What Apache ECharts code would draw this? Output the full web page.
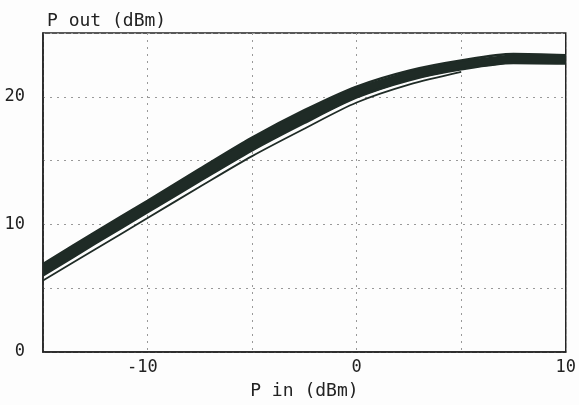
<!DOCTYPE html>
<html>
<head>
<meta charset="utf-8">
<script src="https://cdn.jsdelivr.net/npm/echarts@6/dist/echarts.min.js"></script>
<style>
  html, body { margin: 0; padding: 0; background: #fdfdfd; }
  #chart { width: 579px; height: 405px; }
</style>
</head>
<body>
<div id="chart"></div>
<script>
// P in (dBm) sample points
var pin = [-15, -12.5, -10, -7.5, -5, -2.5, 0, 2.5, 5, 7.5, 10];
// upper and lower edge of the dark band of curves (P out, dBm)
var bandTop = [6.9, 9.4, 11.85, 14.35, 16.8, 18.95, 20.8, 22.05, 22.85, 23.35, 23.25];
var bandBottom = [6.0, 8.5, 10.95, 13.4, 15.8, 17.95, 19.95, 21.3, 22.15, 22.65, 22.6];
// separate thin curve below the band
var thinPin = [-15, -12.5, -10, -7.5, -5, -2.5, 0, 2.5, 5];
var thinOut = [5.6, 8.05, 10.5, 12.95, 15.35, 17.5, 19.55, 20.95, 21.95];

var xTicks = [-10, 0, 10];
var yTicks = [0, 10, 20];

var ink = '#1f2b26';
var font = 'DejaVu Sans Mono';

var myChart = echarts.init(document.getElementById('chart'));

var topData = [], bottomData = [], thinData = [];
for (var i = 0; i < pin.length; i++) {
	topData.push([pin[i], bandTop[i]]);
	bottomData.push([pin[i], bandBottom[i]]);
}
for (var j = 0; j < thinPin.length; j++) {
	thinData.push([thinPin[j], thinOut[j]]);
}

// fill between the two band edges (the smoothed edge lines are drawn over it)
function renderBand(params, api) {
	var pts = [];
	for (var k = 0; k < pin.length; k++) {
		pts.push(api.coord([pin[k], bandTop[k]]));
	}
	for (var m = pin.length - 1; m >= 0; m--) {
		pts.push(api.coord([pin[m], bandBottom[m]]));
	}
	return {
		type: 'polygon',
		shape: { points: pts },
		style: { fill: ink }
	};
}

var axisText = { fontFamily: font, fontSize: 17, color: '#222' };
var dotted = { show: true, lineStyle: { color: '#999', type: [2, 5], width: 1 } };

function edge(name, data, width) {
	return {
		name: name,
		type: 'line',
		smooth: 0.3,
		symbol: 'none',
		lineStyle: { color: ink, width: width },
		data: data,
		z: 3
	};
}

var option = {
	backgroundColor: '#fdfdfd',
	animation: false,
	grid: {
		left: 43,
		right: 9,
		top: 33,
		bottom: 50,
		show: true,
		borderColor: '#222',
		borderWidth: 1.5
	},
	xAxis: {
		type: 'value',
		min: -15,
		max: 10,
		interval: 5,
		name: 'P in (dBm)',
		nameLocation: 'middle',
		nameGap: 30,
		nameTextStyle: { fontFamily: font, fontSize: 18, color: '#222' },
		axisLine: { show: true, onZero: false, lineStyle: { color: '#222', width: 1.5 } },
		axisTick: { show: false },
		axisLabel: Object.assign({
			margin: 7,
			formatter: function (v) {
				if (xTicks.indexOf(v) < 0) return '';
				// plotter centres the digits, the minus sign hangs to the left
				return v < 0 ? v + ' ' : String(v);
			}
		}, axisText),
		splitLine: dotted
	},
	yAxis: {
		type: 'value',
		min: 0,
		max: 25,
		interval: 5,
		name: 'P out (dBm)',
		nameLocation: 'end',
		nameGap: 3,
		nameTextStyle: { fontFamily: font, fontSize: 18, color: '#222', align: 'left', padding: [0, 0, 0, 4] },
		axisLine: { show: true, onZero: false, lineStyle: { color: '#222', width: 1.5 } },
		axisTick: { show: false },
		axisLabel: Object.assign({
			margin: 18,
			formatter: function (v) {
				return yTicks.indexOf(v) >= 0 ? String(v) : '';
			}
		}, axisText),
		splitLine: dotted
	},
	series: [
		{
			name: 'band',
			type: 'custom',
			clip: true,
			renderItem: renderBand,
			data: [[0, 0]],
			z: 2
		},
		edge('band top', topData, 2.5),
		edge('band bottom', bottomData, 2.5),
		edge('thin', thinData, 1.8)
	]
};
myChart.setOption(option);
</script>
</body>
</html>
